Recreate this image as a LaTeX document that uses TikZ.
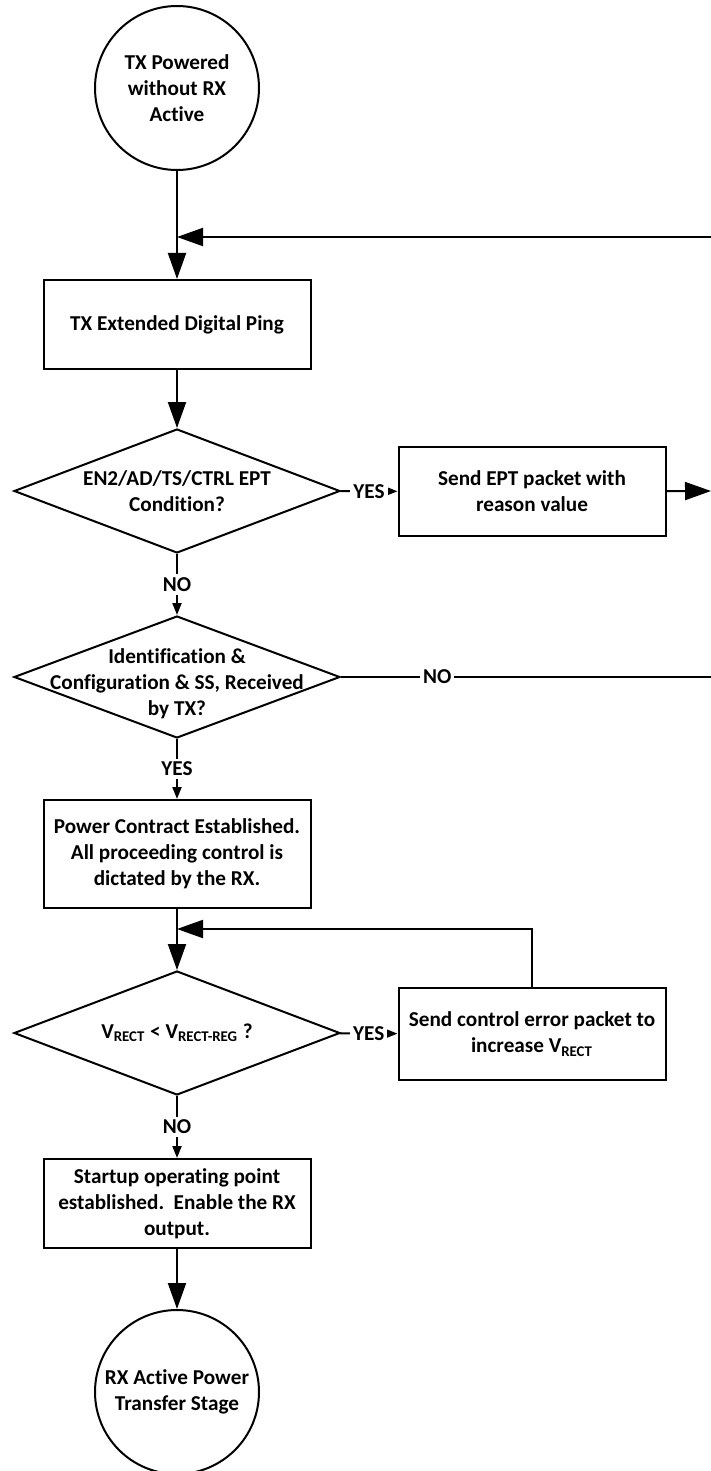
\documentclass[tikz,border=0pt]{standalone}
\usepackage{fontspec}
\setmainfont{Carlito}[Ligatures=NoCommon]
\usetikzlibrary{shapes.geometric,arrows.meta}
\begin{document}
\begin{tikzpicture}[x=0.5pt,y=-0.5pt,line width=1pt,
                    font=\fontsize{10.6pt}{13pt}\selectfont\bfseries]
    \tikzstyle{etat}=[draw,circle,minimum size=82pt,inner sep=0pt,align=center]
    \tikzstyle{bloc}=[draw,rectangle,minimum width=133.5pt,minimum height=44.5pt,inner sep=0pt,align=center]
    \tikzstyle{test}=[draw,diamond,minimum width=163pt,minimum height=62pt,inner sep=0pt]
    \tikzstyle{texte}=[align=center,inner sep=0pt]
    \tikzstyle{reponse}=[fill=white,inner sep=1.5pt]
    \tikzstyle{fleche}=[-{Triangle[length=13pt,width=9pt]}]
    \tikzstyle{petite}=[-{Triangle[length=6pt,width=4.5pt]}]
    \useasboundingbox (0,0) rectangle (711,1471);
    \node[etat] (debut) at (177,88) {TX Powered\\without RX\\Active};
    \node[bloc] (ping) at (177,324.5) {TX Extended Digital Ping};
    \node[test] (ept) at (177,491) {};
    \node[texte] (eptt) at (ept) {EN2/AD/TS/CTRL EPT\\Condition?};
    \node[bloc] (envoi) at (532,491.5) {Send EPT packet with\\reason value};
    \node[test,minimum height=61pt] (ident) at (177,677) {};
    \node[texte] (identt) at (177,684) {Identification \&\\Configuration \& SS, Received\\by TX?};
    \node[bloc,minimum height=54pt] (contrat) at (177,854) {Power Contract Established.\\All proceeding control is\\dictated by the RX.};
    \node[test] (vrect) at (177,1033) {};
    \node[texte] (vrectt) at (vrect) {V\textsubscript{RECT} < V\textsubscript{RECT-REG} ?};
    \node[bloc,minimum height=46pt] (erreur) at (532,1034) {Send control error packet to\\increase V\textsubscript{RECT}};
    \node[bloc] (sortie) at (177,1203.5) {Startup operating point\\established.\ \ Enable the RX\\output.};
    \node[etat] (fin) at (177,1392) {RX Active Power\\Transfer Stage};
    \coordinate (retour) at (711,237);
    \coordinate (bord) at (711,491);
    \coordinate (non) at (711,677);
    \coordinate (boucle) at (177,929);
    \draw[fleche] (debut) -- (ping);
    \draw[fleche] (retour) -- (retour -| debut.south);
    \draw[fleche] (ping) -- (ept);
    \draw[petite] (ept) -- node[reponse] (oui1) {YES} (envoi);
    \draw[fleche] (envoi) -- (bord);
    \draw[petite] (ept) -- node[reponse] (non1) {NO} (ident);
    \draw (ident.east) -- node[reponse,pos=0.26] (non2) {NO} (non);
    \draw[petite] (ident) -- node[reponse] (oui2) {YES} (contrat);
    \draw[fleche] (contrat) -- (vrect);
    \draw[petite] (vrect) -- node[reponse] (oui3) {YES} (erreur);
    \draw[fleche] (erreur.north) |- (boucle);
    \draw[petite] (vrect) -- node[reponse] (non3) {NO} (sortie);
    \draw[fleche] (sortie) -- (fin);
\end{tikzpicture}
\end{document}
